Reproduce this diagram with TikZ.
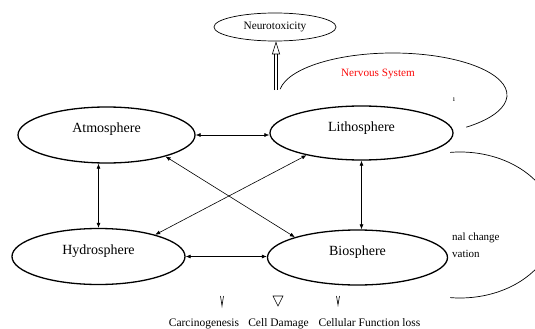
\documentclass[tikz,border=0pt]{standalone}
\usepackage{fontspec}
\setmainfont{Liberation Serif}
\usetikzlibrary{arrows.meta,shapes.geometric}
\definecolor{nervred}{RGB}{250,10,10}

\begin{document}
\begin{tikzpicture}[x=1pt,y=-1pt,
    sphere/.style={draw, ellipse, line width=1.3pt, inner sep=0pt, text height=10pt, text depth=15pt,
        font=\fontsize{14}{16}\selectfont},
    link/.style={line width=0.6pt, {Latex[length=5pt,width=4pt]}-{Latex[length=5pt,width=4pt]}},
    organ/.style={line width=0.7pt},
    effect/.style={font=\fontsize{11.5}{13}\selectfont, inner sep=0pt, anchor=base}]
    \useasboundingbox (0,0) rectangle (535,329);
    \clip (0,0) rectangle (535,329);

    % organ systems (cut off)
    \coordinate (nsC) at (393,95);
    \draw[organ] ([shift={(188:114 and 42)}]nsC) arc[start angle=188, end angle=410, x radius=114, y radius=42];
    \coordinate (cellC) at (460,225);
    \draw[organ] ([shift={(264:95 and 73)}]cellC) arc[start angle=264, end angle=456, x radius=95, y radius=73];
    \node[text=nervred, font=\fontsize{11.2}{13}\selectfont, inner sep=0pt] (nervous) at (378,74) {Nervous System};
    \node[font=\fontsize{8}{9}\selectfont, inner sep=0pt] (nsFrag) at (454,100) {ı};
    \node[font=\fontsize{11}{17}\selectfont, align=left, anchor=north west, inner sep=0pt] (cellText) at (452,233) {nal change\\vation};

    % spheres
    \node[sphere, minimum width=177pt, minimum height=56pt] (Atmosphere) at (106.5,135) {Atmosphere};
    \node[sphere, minimum width=183pt, minimum height=54pt, text depth=13pt] (Lithosphere) at (361.5,133) {Lithosphere};
    \node[sphere, minimum width=173pt, minimum height=56pt] (Hydrosphere) at (98.5,256.5) {Hydrosphere};
    \node[sphere, minimum width=180pt, minimum height=55pt] (Biosphere) at (357.5,257.5) {Biosphere};
    \node[draw, ellipse, line width=0.7pt, inner sep=0pt, minimum width=122pt, minimum height=28pt,
        font=\fontsize{11.3}{13}\selectfont] (Neurotoxicity) at (275,27) {Neurotoxicity};

    % exchanges
    \draw[link] (Atmosphere.east) -- (Atmosphere.east -| Lithosphere.west);
    \draw[link] (Hydrosphere.east) -- (Hydrosphere.east -| Biosphere.west);
    \draw[link] (Atmosphere.south -| Hydrosphere.north) -- (Hydrosphere.north);
    \draw[link] (Lithosphere.south) -- (Lithosphere.south |- Biosphere.north);
    \draw[link] (Atmosphere.-20) -- (Biosphere.162);
    \draw[link] (Lithosphere.202) -- (Hydrosphere.21);

    % neurotoxicity
    \coordinate (ntTail) at (276,90);
    \draw[double, double distance=2.2pt, line width=0.6pt, -{Triangle[open, length=13pt, width=8pt]}] (ntTail) -- (Neurotoxicity.south -| ntTail);

    % effects
    \node[effect] (carc) at (204,326) {Carcinogenesis};
    \node[effect] (damage) at (278.5,326) {Cell Damage};
    \node[effect] (funcLoss) at (369.5,326) {Cellular Function loss};
    \draw[line width=0.6pt] (220.5,296) -- (222,306) -- (223.5,296);
    \draw[line width=0.6pt] (273,296) -- (283,296) -- (278,306) -- cycle;
    \draw[line width=0.6pt] (336.5,296) -- (338,305) -- (339.5,296);
\end{tikzpicture}
\end{document}
